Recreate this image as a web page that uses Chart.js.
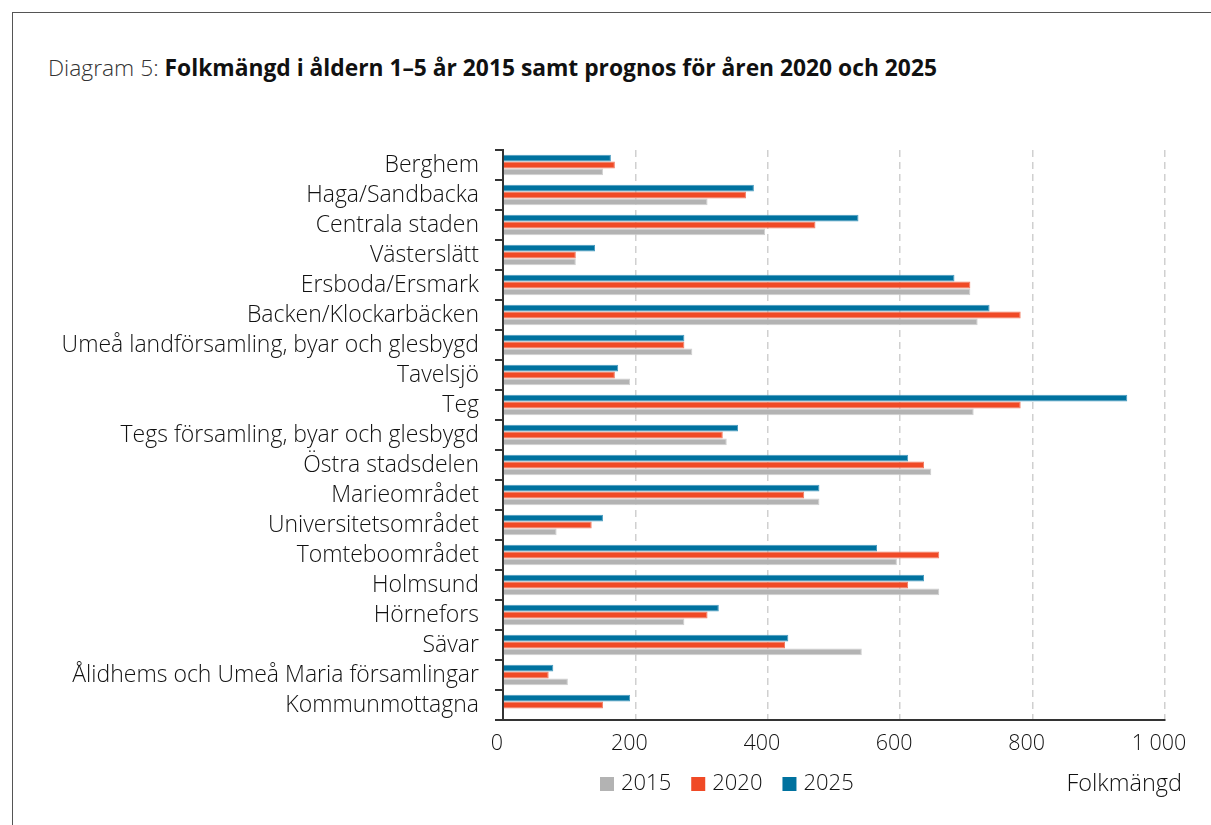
<!DOCTYPE html>
<html>
<head>
<meta charset="utf-8">
<script src="https://cdn.jsdelivr.net/npm/chart.js@4/dist/chart.umd.min.js"></script>
<style>
  body { margin: 0; background: #fff; }
  #frame { position: absolute; left: 12px; top: 12px; width: 1199px; height: 813px;
           border-top: 1px solid #555; border-left: 1px solid #555; }
  #title { position: absolute; left: 48px; top: 52px; font-family: "Open Sans", sans-serif;
           font-size: 22.8px; color: #111; white-space: nowrap; }
  #title .lead { font-weight: 300; color: #333; }
  #title b { font-weight: 700; }
  #c { position: absolute; left: 0; top: 0; }
</style>
</head>
<body>
<div id="frame"></div>
<div id="title"><span class="lead">Diagram 5: </span><b>Folkmängd i åldern 1–5 år 2015 samt prognos för åren 2020 och 2025</b></div>
<canvas id="c" width="1211" height="825"></canvas>
<script>
// områden, uppifrån och ned
var omraden = ["Berghem", "Haga/Sandbacka", "Centrala staden", "Västerslätt", "Ersboda/Ersmark",
  "Backen/Klockarbäcken", "Umeå landförsamling, byar och glesbygd", "Tavelsjö", "Teg",
  "Tegs församling, byar och glesbygd", "Östra stadsdelen", "Marieområdet", "Universitetsområdet",
  "Tomteboområdet", "Holmsund", "Hörnefors", "Sävar", "Ålidhems och Umeå Maria församlingar",
  "Kommunmottagna"];

// folkmängd per år
var ar2015 = [151, 309, 396, 110, 706, 717, 286, 192, 711, 338, 647, 478, 81, 595, 659, 274, 542, 98, 0];
var ar2020 = [169, 367, 472, 110, 706, 782, 274, 169, 782, 332, 636, 455, 134, 659, 612, 309, 426, 69, 151];
var ar2025 = [163, 379, 537, 139, 682, 735, 274, 174, 943, 355, 612, 478, 151, 565, 636, 326, 431, 76, 192];

var xTicks = [0, 200, 400, 600, 800, 1000];
var xTitel = "Folkmängd";

var fontName = "'Open Sans', sans-serif";

// egen legend + axeltitel under diagrammet
var legendPlugin = {
  id: 'egenLegend',
  afterDraw: function(chart) {
    var ctx = chart.ctx;
    ctx.save();
    ctx.font = "300 22px " + fontName;
    ctx.textBaseline = "middle";
    var ds = chart.data.datasets.slice().reverse();
    var x = 600, y = 784;
    for (var i = 0; i < ds.length; i++) {
      ctx.fillStyle = ds[i].backgroundColor;
      ctx.fillRect(x, y - 7, 14, 14);
      ctx.fillStyle = "#111";
      ctx.fillText(ds[i].label, x + 21, y);
      x += 21 + ctx.measureText(ds[i].label).width + 20;
    }
    ctx.font = "300 23.5px " + fontName;
    ctx.textAlign = "right";
    ctx.fillText(xTitel, 1182, y);
    ctx.restore();
  }
};

new Chart(document.getElementById('c'), {
  type: 'bar',
  data: {
    labels: omraden,
    datasets: [
      { label: "2025", data: ar2025, backgroundColor: "#00729f", borderColor: "#4a9cc0", borderWidth: 1 },
      { label: "2020", data: ar2020, backgroundColor: "#f04a26", borderColor: "#f27c62", borderWidth: 1 },
      { label: "2015", data: ar2015, backgroundColor: "#b3b3b3", borderColor: "#cfcfcf", borderWidth: 1 }
    ]
  },
  options: {
    indexAxis: 'y',
    responsive: false,
    animation: false,
    layout: { padding: { top: 150, right: 46, left: 0, bottom: 0 } },
    datasets: { bar: { categoryPercentage: 0.68, barPercentage: 1 } },
    plugins: { legend: { display: false }, tooltip: { enabled: false } },
    scales: {
      x: {
        min: 0, max: 1000,
        afterFit: function(s) { s.height = 105; },
        afterBuildTicks: function(s) { s.ticks = xTicks.map(function(v) { return { value: v }; }); },
        border: { display: true, color: "#333", width: 2, dash: [7, 5] },
        grid: {
          drawTicks: false,
          color: function(c) { return c.tick && c.tick.value === 0 ? "rgba(0,0,0,0)" : "#d0d0d0"; },
          lineWidth: 1.5
        },
        ticks: {
          padding: 11, labelOffset: -6, color: "#111",
          font: { family: fontName, size: 21.5, weight: 300 },
          callback: function(v) { return v >= 1000 ? "1\u00a0" + String(v).slice(1) : String(v); }
        }
      },
      y: {
        afterFit: function(s) { s.width = 503; },
        border: { color: "#333", width: 2 },
        grid: { drawOnChartArea: false, drawTicks: true, tickLength: 8, color: "#333", lineWidth: 2 },
        ticks: { padding: 16, color: "#111", font: { family: fontName, size: 23, weight: 300 }, autoSkip: false }
      }
    }
  },
  plugins: [legendPlugin]
});
</script>
</body>
</html>
